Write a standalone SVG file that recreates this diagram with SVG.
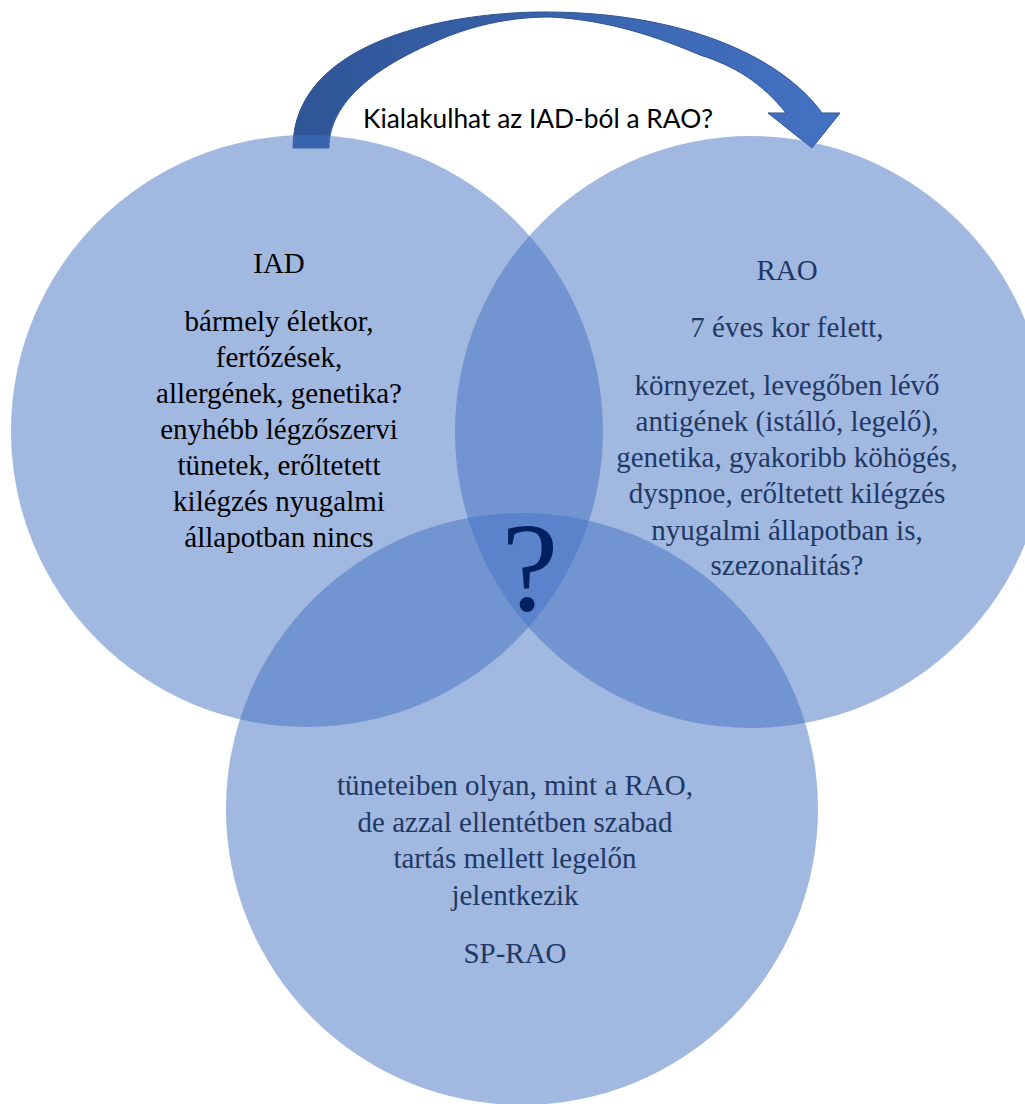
<svg xmlns="http://www.w3.org/2000/svg" width="1025" height="1104" viewBox="0 0 1025 1104">
<defs>
<linearGradient id="arrowGrad" gradientUnits="userSpaceOnUse" x1="293" y1="0" x2="840" y2="0">
<stop offset="0" stop-color="#2F5597"/>
<stop offset="1" stop-color="#4472C4"/>
</linearGradient>
</defs>
<style>
.circle{fill:#4472C4;fill-opacity:0.5}
.lbl{font-family:"Liberation Serif","Times New Roman",serif;font-size:29px;text-anchor:middle}
.black{fill:#000000}
.navy{fill:#1F3864}
.title{font-family:Lato,"Liberation Sans",sans-serif;font-size:26.5px;fill:#000000;text-anchor:middle}
.qmark{font-family:"Liberation Serif","Times New Roman",serif;font-size:128px;fill:#002060;text-anchor:middle}
</style>
<rect width="1025" height="1104" fill="#ffffff"/>
<g id="connectors">
<path id="arrow-iad-rao" d="M293,148 C293,40 450,12 545,12 C680,12 780,55 822,113 L840,113 L812,148 L768,113 L786,113 C762,83 735,66 700,55 C660,38 610,20 550,17 C500,17 460,30 430,44 C380,66 329,100 329,148 Z" fill="url(#arrowGrad)" stroke="#2F528F" stroke-width="1"/>
<text class="title" x="538" y="128" textLength="350" lengthAdjust="spacingAndGlyphs">Kialakulhat az IAD-ból a RAO?</text>
</g>
<g id="node-iad">
<circle class="circle" cx="307" cy="431" r="296"/>
<text class="lbl black" x="279" y="273">IAD</text>
<text class="lbl black" x="279" y="331">bármely életkor,</text>
<text class="lbl black" x="279" y="367">fertőzések,</text>
<text class="lbl black" x="279" y="403">allergének, genetika?</text>
<text class="lbl black" x="279" y="439">enyhébb légzőszervi</text>
<text class="lbl black" x="279" y="475">tünetek, erőltetett</text>
<text class="lbl black" x="279" y="511">kilégzés nyugalmi</text>
<text class="lbl black" x="279" y="547">állapotban nincs</text>
</g>
<g id="node-rao">
<circle class="circle" cx="751" cy="432" r="296"/>
<text class="lbl navy" x="787" y="280">RAO</text>
<text class="lbl navy" x="787" y="337">7 éves kor felett,</text>
<text class="lbl navy" x="787" y="395">környezet, levegőben lévő</text>
<text class="lbl navy" x="787" y="431">antigének (istálló, legelő),</text>
<text class="lbl navy" x="787" y="467">genetika, gyakoribb köhögés,</text>
<text class="lbl navy" x="787" y="503">dyspnoe, erőltetett kilégzés</text>
<text class="lbl navy" x="787" y="540">nyugalmi állapotban is,</text>
<text class="lbl navy" x="787" y="575">szezonalitás?</text>
</g>
<g id="node-sprao">
<circle class="circle" cx="522" cy="809" r="296"/>
<text class="lbl navy" x="515" y="795">tüneteiben olyan, mint a RAO,</text>
<text class="lbl navy" x="515" y="832">de azzal ellentétben szabad</text>
<text class="lbl navy" x="515" y="868">tartás mellett legelőn</text>
<text class="lbl navy" x="515" y="905">jelentkezik</text>
<text class="lbl navy" x="515" y="963">SP-RAO</text>
</g>
<g id="node-overlap">
<text class="qmark" x="530" y="610">?</text>
</g>
</svg>
